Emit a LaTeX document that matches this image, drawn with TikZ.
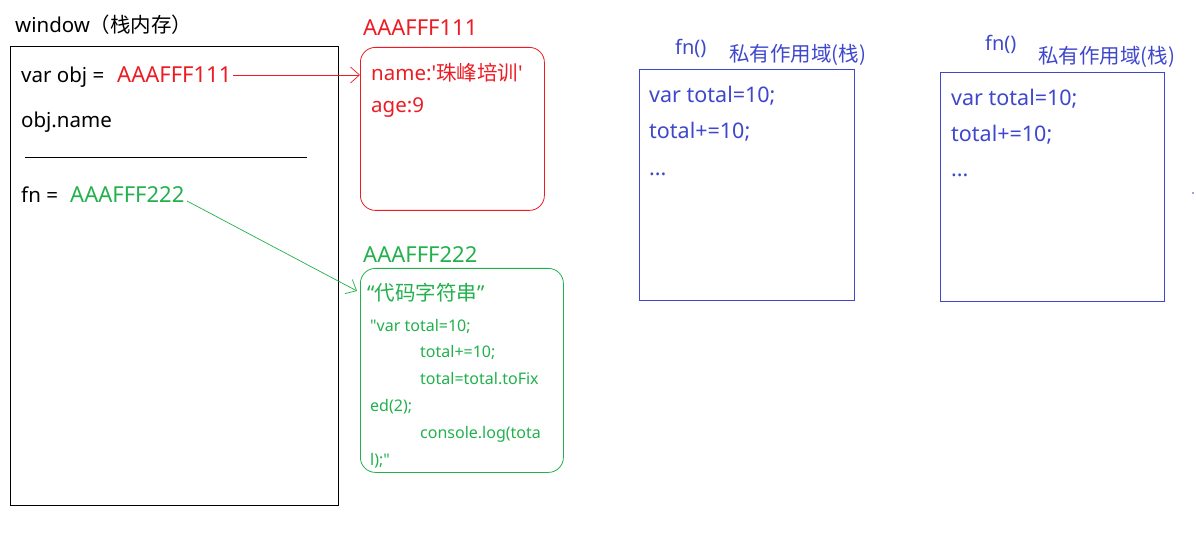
\documentclass[tikz,border=0pt]{standalone}
\usepackage{fontspec}
\setmainfont{Noto Sans}[Ligatures=TeXOff]
\newfontfamily\cjk{Noto Sans CJK SC}[Ligatures=TeXOff]
\usetikzlibrary{arrows.meta}
\definecolor{pred}{HTML}{ED1C24}
\definecolor{pgreen}{HTML}{22B14C}
\definecolor{pblue}{HTML}{3F48CC}
\tikzset{
  txt/.style={anchor=base west,inner sep=0pt,font=\fontsize{20.5}{22}\selectfont},
  addr/.style={anchor=base west,inner sep=0pt,font=\fontsize{22}{24}\selectfont},
  btxt/.style={anchor=base west,inner sep=0pt,font=\fontsize{21.5}{24}\selectfont,text=pblue},
  code/.style={anchor=base west,inner sep=0pt,font=\fontsize{16}{17}\selectfont,text=pgreen},
  boxr/.style={draw,anchor=north west,inner sep=0pt,line width=0.8pt},
  barb/.style={-{Straight Barb[length=9pt,width=16pt,line width=0.7pt]},line width=0.7pt},
}
\begin{document}
\begin{tikzpicture}[x=1pt,y=-1pt]
\useasboundingbox[fill=white] (0,0) rectangle (1196,545);
% window stack
\node[txt,font=\fontsize{20.5}{22}\selectfont] (wlabel) at (15,33) {window{\cjk（栈内存）}};
\node[boxr,minimum width=328pt,minimum height=459pt] (win) at (10,46) {};
\node[txt] (vobj) at (21,83) {var obj =};
\node[addr,text=pred] (addr1) at (117,83) {AAAFFF111};
\node[txt] (objname) at (21,128) {obj.name};
\coordinate (sepL) at (25,157);
\coordinate (sepR) at (307,157);
\draw[line width=0.8pt] (sepL) -- (sepR);
\node[txt] (fneq) at (21,203) {fn =};
\node[addr,text=pgreen] (addr2) at (70,203) {AAAFFF222};
% heap 1
\node[addr,text=pred] (h1label) at (363,36) {AAAFFF111};
\node[boxr,draw=pred,rounded corners=15pt,minimum width=184pt,minimum height=163pt] (heap1) at (360,47) {};
\node[txt,text=pred] (h1a) at (371,81) {name:'{\cjk 珠峰培训}'};
\node[txt,text=pred] (h1b) at (371,113) {age:9};
% heap 2
\node[addr,text=pgreen] (h2label) at (363,263) {AAAFFF222};
\node[boxr,draw=pgreen,rounded corners=15pt,minimum width=203pt,minimum height=204pt] (heap2) at (360,268) {};
\node[txt,text=pgreen] (h2t) at (367,301) {“{\cjk 代码字符串}”};
\node[code] (c1) at (370,331) {"var total=10;};
\node[code] (c2) at (420,357) {total+=10;};
\node[code] (c3) at (420,384) {total=total.toFix};
\node[code] (c4) at (370,411) {ed(2);};
\node[code] (c5) at (420,438) {console.log(tota};
\node[code] (c6) at (370,465) {l);"};
% arrows
\coordinate (r1) at (233,75);
\draw[barb,pred] (r1) -- (r1 -| heap1.west);
\coordinate (g1) at (187,201);
\coordinate (g2) at (357,291);
\draw[barb,pgreen] (g1) -- (g2);
% fn scope 1
\node[txt,text=pblue,font=\fontsize{20}{22}\selectfont] (f1) at (675,55) {fn()};
\node[txt,text=pblue,font=\fontsize{20.5}{22}\cjk] (p1) at (729,62) {私有作用域(栈)};
\node[boxr,draw=pblue,minimum width=215pt,minimum height=231pt] (s1) at (639,69) {};
\node[btxt] (s1a) at (649,103) {var total=10;};
\node[btxt] (s1b) at (649,139) {total+=10;};
\node[btxt] (s1c) at (649,176) {...};
% fn scope 2
\node[txt,text=pblue,font=\fontsize{20}{22}\selectfont] (f2) at (985,51) {fn()};
\node[txt,text=pblue,font=\fontsize{20.5}{22}\cjk] (p2) at (1038,64) {私有作用域(栈)};
\node[boxr,draw=pblue,minimum width=224pt,minimum height=229pt] (s2) at (940,72) {};
\node[btxt] (s2a) at (951,106) {var total=10;};
\node[btxt] (s2b) at (951,142) {total+=10;};
\node[btxt] (s2c) at (951,177) {...};
\fill[pblue] (1193,193) circle (0.9pt);
\end{tikzpicture}
\end{document}
